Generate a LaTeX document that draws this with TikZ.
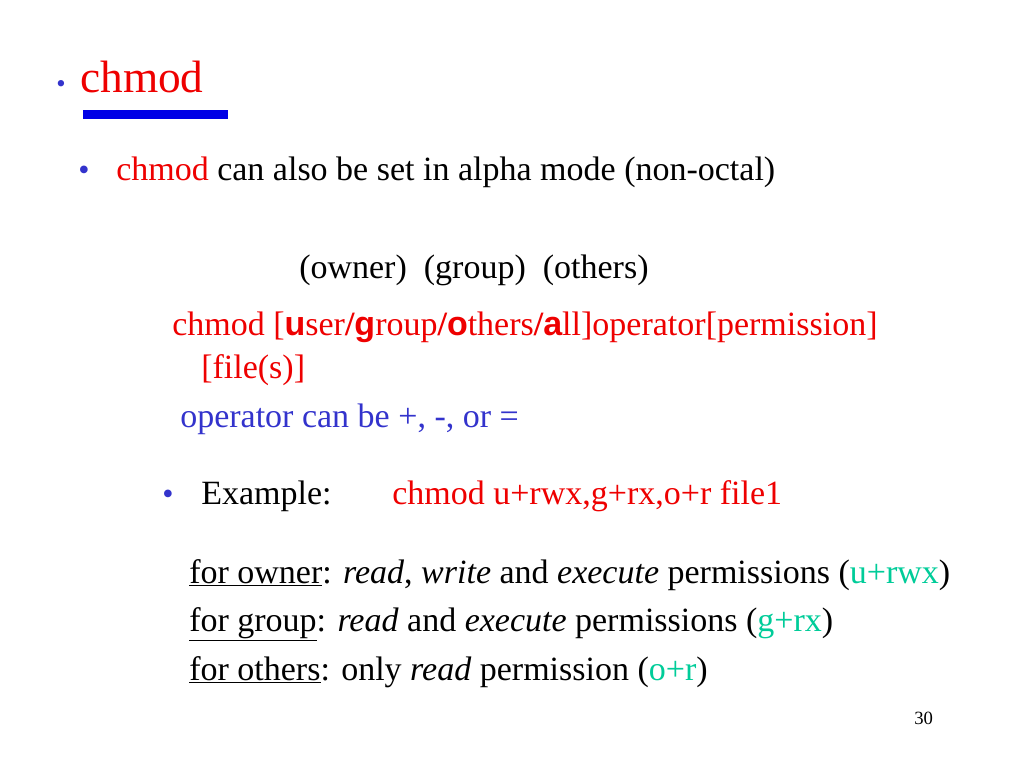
\documentclass[tikz,border=0pt]{standalone}
\usepackage{fontspec}
\setmainfont{Liberation Serif}
\setsansfont{Liberation Sans}
\definecolor{myred}{RGB}{238,0,0}
\definecolor{myblue}{RGB}{51,51,204}
\definecolor{mygreen}{RGB}{0,204,153}
\definecolor{barblue}{RGB}{0,0,230}
\begin{document}
\begin{tikzpicture}[x=0.75pt,y=-0.75pt,
  t/.style={anchor=base west,inner sep=0pt,font=\fontsize{25.5}{30}\selectfont},
  bul/.style={anchor=base west,inner sep=0pt,text=myblue,font=\fontsize{24}{28}\selectfont}]
\useasboundingbox (0,0) rectangle (1024,768);
\node[bul,font=\fontsize{20}{24}\selectfont] (b0) at (56,92) {•};
\node[t,text=myred,font=\fontsize{34}{38}\selectfont] (title) at (80,92) {chmod};
\fill[barblue] (83,110) rectangle (228,119);
\node[bul] (b1) at (78,180) {•};
\node[t] (l1) at (116,180) {\textcolor{myred}{chmod} can also be set in alpha mode (non-octal)};
\node[t] (l2) at (299,278) {(owner)\ \ (group)\ \ (others)};
\node[t,text=myred] (l3) at (172,335) {chmod [{\sffamily\bfseries u}ser{\bfseries /}{\sffamily\bfseries g}roup{\bfseries /}{\sffamily\bfseries o}thers{\bfseries /}{\sffamily\bfseries a}ll]operator[permission]};
\node[t,text=myred] (l4) at (201,378) {[file(s)]};
\node[t,text=myblue] (l5) at (180,427) {operator can be +, -, or =};
\node[bul] (b2) at (162,504) {•};
\node[t] (l6) at (201,504) {Example:};
\node[t,text=myred] (l7) at (392,504) {chmod u+rwx,g+rx,o+r file1};
\node[t] (l8) at (189,583) {\underline{for owner}: \textit{read}, \textit{write} and \textit{execute} permissions (\textcolor{mygreen}{u+rwx})};
\node[t] (l9) at (189,631) {\underline{for group}: \textit{read} and \textit{execute} permissions (\textcolor{mygreen}{g+rx})};
\node[t] (l10) at (189,680) {\underline{for others}: only \textit{read} permission (\textcolor{mygreen}{o+r})};
\node[t,font=\fontsize{14}{16}\selectfont] (pg) at (914,724) {30};
\end{tikzpicture}
\end{document}
